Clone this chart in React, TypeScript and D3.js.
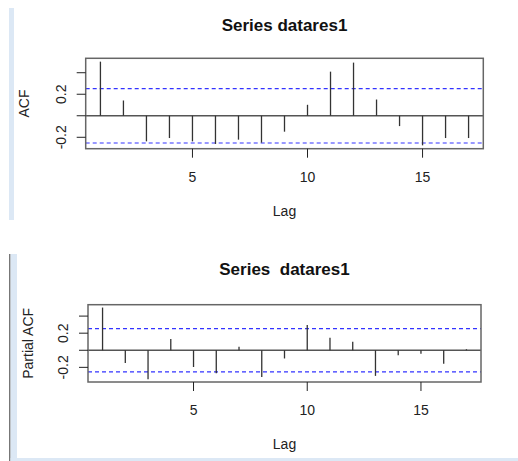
import * as d3 from "d3";

const lags = d3.range(1, 18);
const acfValues = [0.503, 0.142, -0.238, -0.207, -0.238, -0.262, -0.222, -0.25, -0.148, 0.102, 0.41, 0.494, 0.151, -0.096, -0.275, -0.207, -0.207];
const pacfValues = [0.5, -0.15, -0.338, 0.131, -0.196, -0.269, 0.042, -0.312, -0.096, 0.296, 0.146, 0.1, -0.3, -0.058, -0.042, -0.158, 0.012];
const ciLimit = 0.253;
const xTicks = [5, 10, 15];
const yTicks = [-0.2, 0, 0.2, 0.4];
const yTickLabels = ["-0.2", "", "0.2", ""];

const FONT = "'Liberation Sans', Arial, sans-serif";

type PanelProps = {
  values: number[];
  title: string;
  ylab: string;
  box: { left: number; right: number; top: number; bottom: number };
  titleY: number;
  ylabX: number;
};

const Panel = ({ values, title, ylab, box, titleY, ylabX }: PanelProps) => {
  const lo = Math.min(d3.min(values)!, -ciLimit);
  const hi = Math.max(d3.max(values)!, ciLimit);
  const pad = (hi - lo) * 0.04;
  const xPad = (17 - 1) * 0.04;

  const x = d3.scaleLinear().domain([1 - xPad, 17 + xPad]).range([box.left, box.right]);
  const y = d3.scaleLinear().domain([lo - pad, hi + pad]).range([box.bottom, box.top]);
  const midX = (box.left + box.right) / 2;
  const midY = (box.top + box.bottom) / 2;

  return (
    <g fontFamily={FONT}>
      <text x={midX} y={titleY} textAnchor="middle" fontSize={17} fontWeight="bold" fill="#111" style={{ whiteSpace: "pre" }}>
        {title}
      </text>
      {/* confidence band */}
      {[ciLimit, -ciLimit].map((c) => (
        <line key={c} x1={box.left} x2={box.right} y1={y(c)} y2={y(c)} stroke="#3333ff" strokeDasharray="4,3" strokeWidth={1.2} />
      ))}
      {/* zero line */}
      <line x1={box.left} x2={box.right} y1={y(0)} y2={y(0)} stroke="#555" strokeWidth={1.5} />
      {values.map((v, i) => (
        <line key={i} x1={x(lags[i])} x2={x(lags[i])} y1={y(0)} y2={y(v)} stroke="#333" strokeWidth={1.3} />
      ))}
      <rect x={box.left} y={box.top} width={box.right - box.left} height={box.bottom - box.top} fill="none" stroke="#666" strokeWidth={1.5} />
      {/* x axis */}
      {xTicks.map((t) => (
        <g key={t}>
          <line x1={x(t)} x2={x(t)} y1={box.bottom} y2={box.bottom + 9} stroke="#222" />
          <text x={x(t)} y={box.bottom + 33} textAnchor="middle" fontSize={14} fill="#222">{t}</text>
        </g>
      ))}
      <text x={midX} y={box.bottom + 67} textAnchor="middle" fontSize={14} fill="#222">Lag</text>
      {/* y axis */}
      {yTicks.map((t, i) => (
        <g key={t}>
          <line x1={box.left - 9} x2={box.left} y1={y(t)} y2={y(t)} stroke="#222" />
          {yTickLabels[i] && (
            <text transform={`translate(${box.left - 20},${y(t)}) rotate(-90)`} textAnchor="middle" fontSize={14} fill="#222">
              {yTickLabels[i]}
            </text>
          )}
        </g>
      ))}
      <text transform={`translate(${ylabX},${midY}) rotate(-90)`} textAnchor="middle" dominantBaseline="middle" fontSize={14} fill="#222">
        {ylab}
      </text>
    </g>
  );
};

export default function App() {
  return (
    <svg width={518} height={461} style={{ position: "absolute", left: 0, top: 0, background: "#fff" }}>
      <rect x={9} y={8} width={5} height={212} fill="#dce8f5" />
      <rect x={9} y={254} width={1.6} height={207} fill="#777" />
      <rect x={10.6} y={254} width={6.4} height={207} fill="#dce8f5" />
      <rect x={10.6} y={458} width={508} height={3} fill="#dce8f5" />
      <Panel
        values={acfValues}
        title="Series datares1"
        ylab="ACF"
        box={{ left: 85.7, right: 483.3, top: 58.3, bottom: 148.7 }}
        titleY={31}
        ylabX={25}
      />
      <Panel
        values={pacfValues}
        title="Series  datares1"
        ylab="Partial ACF"
        box={{ left: 88, right: 481, top: 304.7, bottom: 382 }}
        titleY={275}
        ylabX={29}
      />
    </svg>
  );
}
